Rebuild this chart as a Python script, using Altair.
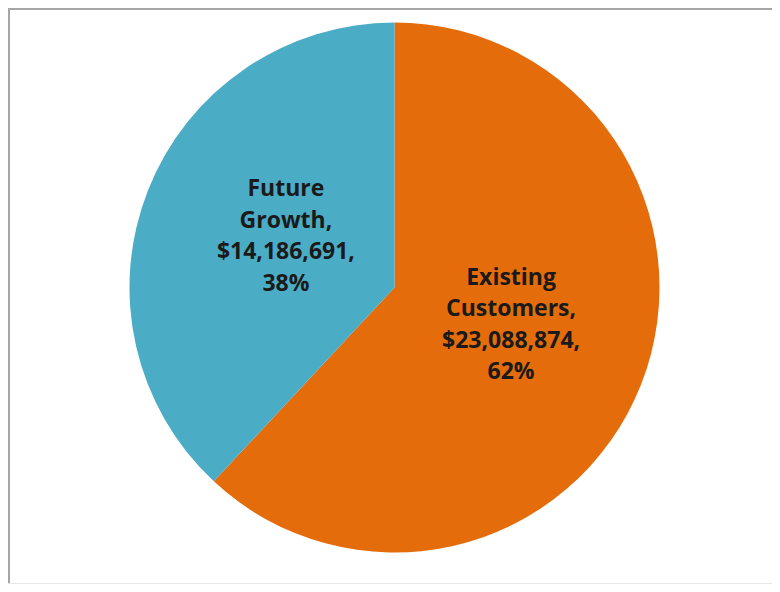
import altair as alt
import pandas as pd

categories = ["Existing Customers", "Future Growth"]
values = [23088874, 14186691]
percents = [62, 38]
colors = ["#E46C0A", "#4BACC6"]

labels = [
    c.replace(" ", "\n") + ",\n$" + f"{v:,}" + ",\n" + f"{p}%"
    for c, v, p in zip(categories, values, percents)
]
df = pd.DataFrame({
    "category": categories,
    "value": values,
    "label": labels,
    "idx": list(range(len(categories))),
})

W, H = 764, 576
cx, cy, R = 386.5, 279.5, 265

base = alt.Chart(df).encode(
    theta=alt.Theta("value:Q", stack=True),
    order=alt.Order("idx:Q"),
)

arcs = base.mark_arc(radius=R, stroke=None).encode(
    x=alt.value(cx),
    y=alt.value(cy),
    color=alt.Color("category:N", scale=alt.Scale(domain=categories, range=colors), legend=None),
)

texts = base.mark_text(
    radius=121,
    dx=4,
    dy=-54,
    font="Open Sans",
    fontWeight="bold",
    fontSize=23,
    lineBreak="\n",
    lineHeight=31.5,
    align="center",
    baseline="middle",
    color="#1a1a1a",
).encode(
    x=alt.value(cx),
    y=alt.value(cy),
    text="label:N",
)

frame_top = alt.Chart(df).mark_rule(color="#a6a6a6", strokeWidth=2).encode(
    x=alt.value(0), x2=alt.value(W), y=alt.value(1)
)
frame_left = alt.Chart(df).mark_rule(color="#a6a6a6", strokeWidth=2).encode(
    x=alt.value(1), y=alt.value(0), y2=alt.value(H)
)
frame_bottom = alt.Chart(df).mark_rule(color="#e6e6e6", strokeWidth=1).encode(
    x=alt.value(0), x2=alt.value(W), y=alt.value(H - 0.5)
)

chart = alt.layer(arcs, texts, frame_top, frame_left, frame_bottom).properties(
    width=W,
    height=H,
    autosize=alt.AutoSizeParams(type="none"),
    padding=0,
    background="white",
).configure_view(stroke=None)

chart.save("out.html", embed_options={"renderer": "svg", "actions": False})
